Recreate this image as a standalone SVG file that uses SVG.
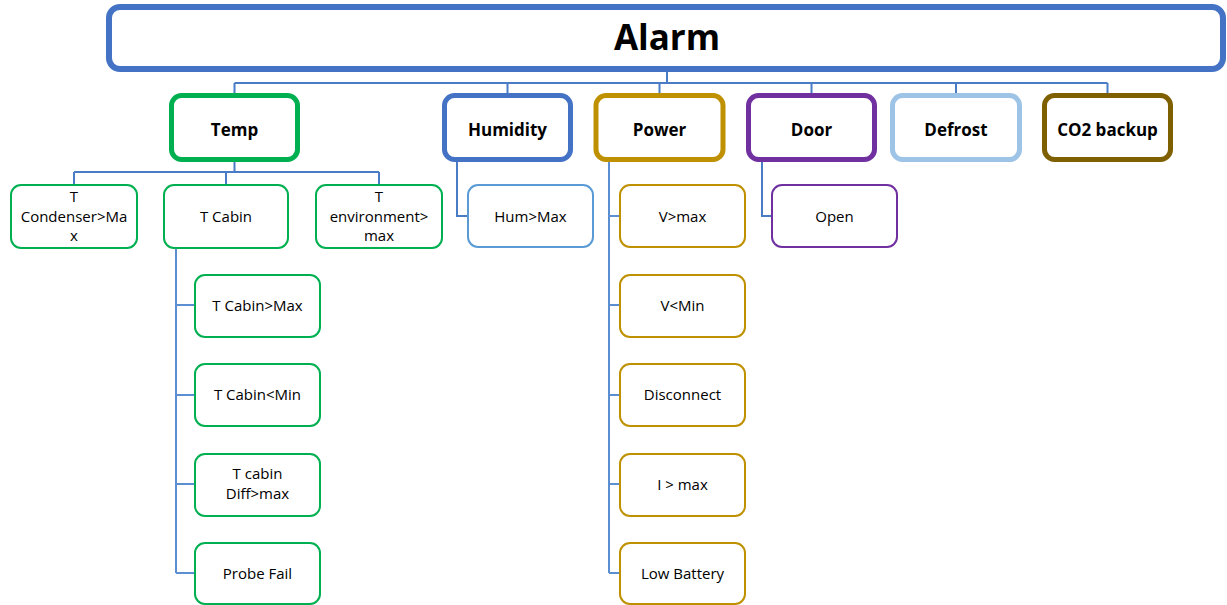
<svg xmlns="http://www.w3.org/2000/svg" width="1227" height="605" viewBox="0 0 1227 605">
<style>
.t{font-family:"Open Sans","Liberation Sans",sans-serif;fill:#000;text-anchor:middle}
.b{font-weight:bold;font-size:17px}
.s{font-size:15px}
.l1{fill:#fff;stroke-width:5}
.l2{fill:#fff;stroke-width:2}
.c{fill:none;stroke:#4a7cc6;stroke-width:2}
.c2{fill:none;stroke:#5b8fd2;stroke-width:2}
</style>
<rect width="1227" height="605" fill="#fff"/>
<g id="connectors">
<path class="c" d="M667 72V83M234.5 83H1107.5M234.5 83V95M507.5 83V95M659.5 83V95M811.5 83V95M956 83V95M1107.5 83V95"/>
<path class="c" d="M234.5 160V172M74 172H379M74 172V184M226 172V184M379 172V184"/>
<path class="c2" d="M176 249V573M176 305H194M176 395H194M176 484H194M176 573H194"/>
<path class="c" d="M457 160V216H467"/>
<path class="c2" d="M609 160V573M609 216H619M609 305H619M609 395H619M609 484H619M609 573H619"/>
<path class="c" d="M762 160V216H771"/>
</g>
<g id="alarm">
<rect x="109" y="7" width="1114" height="62" rx="11" fill="#fff" stroke="#4472c4" stroke-width="6"/>
<text class="t" x="667" y="50" font-weight="bold" font-size="35">Alarm</text>
</g>
<g id="temp"><rect class="l1" x="171.5" y="95.5" width="126" height="64" rx="10" stroke="#00b050"/><text class="t b" x="234.5" y="136">Temp</text></g>
<g id="humidity"><rect class="l1" x="444.5" y="95.5" width="126" height="64" rx="10" stroke="#4472c4"/><text class="t b" x="507.5" y="136">Humidity</text></g>
<g id="power"><rect class="l1" x="596" y="95.5" width="127" height="64" rx="10" stroke="#bf9000"/><text class="t b" x="659.5" y="136">Power</text></g>
<g id="door"><rect class="l1" x="748.5" y="95.5" width="126" height="64" rx="10" stroke="#7030a0"/><text class="t b" x="811.5" y="136">Door</text></g>
<g id="defrost"><rect class="l1" x="892.5" y="95.5" width="127" height="64" rx="10" stroke="#9dc3e6"/><text class="t b" x="956" y="136">Defrost</text></g>
<g id="co2"><rect class="l1" x="1044.5" y="95.5" width="126" height="64" rx="10" stroke="#7f6000"/><text class="t b" x="1107.5" y="136">CO2 backup</text></g>
<g id="tcond"><rect class="l2" x="11" y="185" width="126" height="63" rx="10" stroke="#00b050"/><text class="t s" x="74" y="202">T</text><text class="t s" x="74" y="222">Condenser&gt;Ma</text><text class="t s" x="74" y="241">x</text></g>
<g id="tcabin"><rect class="l2" x="164" y="185" width="124" height="63" rx="10" stroke="#00b050"/><text class="t s" x="226" y="222">T Cabin</text></g>
<g id="tenv"><rect class="l2" x="316" y="185" width="126" height="63" rx="10" stroke="#00b050"/><text class="t s" x="379" y="202">T</text><text class="t s" x="379" y="222">environment&gt;</text><text class="t s" x="379" y="241">max</text></g>
<g id="tcabmax"><rect class="l2" x="195" y="275" width="125" height="62" rx="10" stroke="#00b050"/><text class="t s" x="257.5" y="311">T Cabin&gt;Max</text></g>
<g id="tcabmin"><rect class="l2" x="195" y="364" width="125" height="62" rx="10" stroke="#00b050"/><text class="t s" x="257.5" y="400">T Cabin&lt;Min</text></g>
<g id="tcabdiff"><rect class="l2" x="195" y="454" width="125" height="62" rx="10" stroke="#00b050"/><text class="t s" x="257.5" y="479">T cabin</text><text class="t s" x="257.5" y="499">Diff&gt;max</text></g>
<g id="probe"><rect class="l2" x="195" y="543" width="125" height="61" rx="10" stroke="#00b050"/><text class="t s" x="257.5" y="579">Probe Fail</text></g>
<g id="hummax"><rect class="l2" x="468" y="185" width="125" height="62" rx="10" stroke="#5b9bd5"/><text class="t s" x="530.5" y="222">Hum&gt;Max</text></g>
<g id="vmax"><rect class="l2" x="620" y="185" width="125" height="62" rx="10" stroke="#bf9000"/><text class="t s" x="682.5" y="222">V&gt;max</text></g>
<g id="vmin"><rect class="l2" x="620" y="275" width="125" height="62" rx="10" stroke="#bf9000"/><text class="t s" x="682.5" y="311">V&lt;Min</text></g>
<g id="disc"><rect class="l2" x="620" y="364" width="125" height="62" rx="10" stroke="#bf9000"/><text class="t s" x="682.5" y="400">Disconnect</text></g>
<g id="imax"><rect class="l2" x="620" y="454" width="125" height="62" rx="10" stroke="#bf9000"/><text class="t s" x="682.5" y="490">I &gt; max</text></g>
<g id="lowbat"><rect class="l2" x="620" y="543" width="125" height="61" rx="10" stroke="#bf9000"/><text class="t s" x="682.5" y="579">Low Battery</text></g>
<g id="open"><rect class="l2" x="772" y="185" width="125" height="62" rx="10" stroke="#7030a0"/><text class="t s" x="834.5" y="222">Open</text></g>
</svg>
